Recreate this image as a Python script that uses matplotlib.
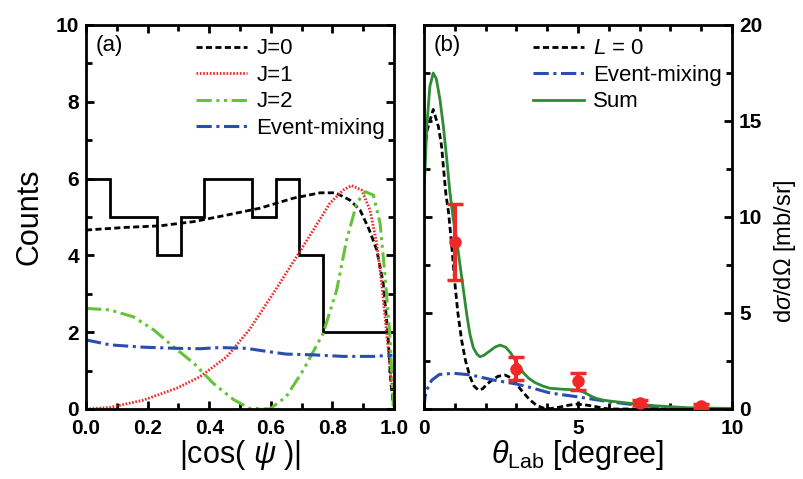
import numpy as np
import matplotlib
matplotlib.use("Agg")
import matplotlib.pyplot as plt
from matplotlib.ticker import MultipleLocator, FormatStrFormatter

plt.rcParams['font.family'] = ['Liberation Sans', 'DejaVu Sans']
plt.rcParams['mathtext.fontset'] = 'custom'
plt.rcParams['mathtext.rm'] = 'Liberation Sans'
plt.rcParams['mathtext.it'] = 'Liberation Sans:italic'

# ---------------- panel (a) data ----------------
hist_edges = list(np.linspace(0, 1, 14))
hist_counts = [6, 5, 5, 4, 5, 6, 6, 5, 6, 4, 2, 2, 2]

j0_x = [0, 0.13, 0.24, 0.35, 0.457, 0.565, 0.673, 0.76, 0.81, 0.857, 0.89, 0.92, 0.944, 0.965, 0.98, 0.99, 0.998]
j0_y = [4.66, 4.73, 4.77, 4.88, 5.05, 5.23, 5.49, 5.63, 5.63, 5.44, 5.18, 4.66, 4.14, 3.27, 1.97, 0.67, 0.1]

j1_x = [0, 0.078, 0.186, 0.294, 0.37, 0.457, 0.53, 0.608, 0.684, 0.738, 0.792, 0.835, 0.862, 0.895, 0.922, 0.944, 0.96, 0.976, 0.987, 0.995]
j1_y = [0, 0.04, 0.23, 0.54, 0.84, 1.36, 2.06, 3.01, 3.97, 4.66, 5.36, 5.70, 5.82, 5.70, 5.18, 4.31, 3.27, 1.97, 1.10, 0.5]

j2_x = [0, 0.078, 0.154, 0.22, 0.284, 0.35, 0.413, 0.478, 0.53, 0.597, 0.65, 0.706, 0.77, 0.814, 0.846, 0.879, 0.906, 0.933, 0.955, 0.971, 0.987, 0.998]
j2_y = [2.62, 2.58, 2.40, 2.06, 1.62, 1.19, 0.67, 0.25, 0.02, 0.0, 0.32, 1.02, 1.97, 3.10, 4.40, 5.36, 5.66, 5.57, 4.83, 3.45, 1.88, 0.06]

mixa_x = [0, 0.078, 0.186, 0.294, 0.37, 0.435, 0.52, 0.587, 0.65, 0.738, 0.835, 0.933, 0.995]
mixa_y = [1.80, 1.67, 1.61, 1.58, 1.57, 1.60, 1.58, 1.50, 1.43, 1.41, 1.37, 1.37, 1.40]

# ---------------- panel (b) data ----------------
sum_x = [0, 0.03, 0.09, 0.19, 0.3, 0.4, 0.52, 0.63, 0.74, 0.84, 0.95, 1.06, 1.17, 1.28, 1.39, 1.49,
         1.6, 1.72, 1.82, 1.95, 2.1, 2.3, 2.47, 2.65, 2.8, 3.0, 3.22, 3.4, 3.6, 3.85, 4.09, 4.5,
         4.96, 5.15, 5.3, 5.45, 5.6, 5.8, 6.0, 6.5, 7.1, 7.5, 8.0, 8.5, 9.0, 10.0]
sum_y = [11.8, 12.3, 14.7, 16.8, 17.5, 17.2, 16.1, 14.7, 13.0, 11.3, 9.9, 8.8, 7.5, 6.2, 4.9, 3.9,
         3.2, 2.85, 2.72, 2.8, 2.98, 3.22, 3.33, 3.22, 2.95, 2.45, 1.9, 1.6, 1.38, 1.2, 1.08, 1.03,
         0.99, 0.9, 0.78, 0.65, 0.55, 0.47, 0.42, 0.33, 0.23, 0.17, 0.12, 0.07, 0.05, 0.03]

l0_x = [0, 0.05, 0.1, 0.19, 0.3, 0.47, 0.57, 0.63, 0.71, 0.8, 0.9, 1.0, 1.1, 1.22, 1.35, 1.49, 1.62,
        1.76, 1.9, 2.05, 2.2, 2.4, 2.63, 2.85, 3.0, 3.2, 3.44, 3.65, 3.87, 4.1, 4.4, 4.7, 4.96, 5.2,
        5.5, 5.8, 6.0, 7.0, 10.0]
l0_y = [12.5, 13.8, 14.5, 15.0, 15.6, 14.7, 13.7, 12.6, 11.2, 10.2, 8.5, 6.6, 5.0, 3.6, 2.5, 1.7, 1.2,
        0.99, 1.05, 1.3, 1.5, 1.7, 1.77, 1.6, 1.3, 0.9, 0.47, 0.2, 0.05, 0.02, 0.1, 0.2, 0.25, 0.22,
        0.15, 0.05, 0.0, 0.0, 0.0]

mixb_x = [0, 0.03, 0.09, 0.25, 0.5, 0.95, 1.5, 2.25, 3.0, 3.5, 4.1, 4.96, 6.0, 7.1, 8.0, 9.0, 10.0]
mixb_y = [0, 0.6, 1.0, 1.5, 1.8, 1.86, 1.78, 1.51, 1.3, 1.1, 0.83, 0.64, 0.38, 0.17, 0.07, 0.02, 0.0]

pts_x = [1, 3, 5, 7, 9]
pts_y = [8.7, 2.1, 1.45, 0.33, 0.16]
pts_err = [1.98, 0.6, 0.45, 0.12, 0.1]

RED = '#f02828'
BLUE = '#2a4db0'
GREEN_A = '#66c236'
GREEN_B = '#2e8b36'

fig = plt.figure(figsize=(8.04, 4.79), dpi=100)
axa = fig.add_axes([86/804, 1-409/479, 308/804, 384/479])
axb = fig.add_axes([424/804, 1-409/479, 308/804, 384/479])

def style(ax):
    for s in ax.spines.values():
        s.set_linewidth(2)
    ax.tick_params(which='both', direction='in', width=2, top=True, right=True,
                   labelsize=15)
    ax.tick_params(axis='x', which='both', pad=7)
    ax.tick_params(axis='y', which='both', pad=5)
    ax.tick_params(which='major', length=6)
    ax.tick_params(which='minor', length=4)
    for lab in ax.get_xticklabels() + ax.get_yticklabels():
        lab.set_fontweight('bold')

# panel (a)
axa.stairs(hist_counts, hist_edges, baseline=None, color='black', lw=2)
axa.plot(j0_x, j0_y, color='black', ls=(0, (2.2, 1.2)), lw=2, label='J=0')
axa.plot(j1_x, j1_y, color=RED, ls=(0, (0.6, 0.6)), lw=2, label='J=1')
axa.plot(j2_x, j2_y, color=GREEN_A, ls=(0, (5, 1.5, 1, 1.5, 1, 1.5)), lw=2.2, label='J=2')
axa.plot(mixa_x, mixa_y, color=BLUE, ls=(0, (5, 1.5, 1, 1.5)), lw=2.2, label='Event-mixing')
axa.set_xlim(0, 1)
axa.set_ylim(0, 10)
axa.xaxis.set_major_locator(MultipleLocator(0.2))
axa.xaxis.set_minor_locator(MultipleLocator(0.1))
axa.yaxis.set_major_locator(MultipleLocator(2))
axa.yaxis.set_minor_locator(MultipleLocator(1))
axa.xaxis.set_major_formatter(FormatStrFormatter('%.1f'))
axa.set_ylabel('Counts', fontsize=22, labelpad=8)
axa.set_xlabel(r'|cos( $\psi$ )|', fontsize=22, labelpad=0)
style(axa)
axa.text(0.03, 0.975, '(a)', transform=axa.transAxes, fontsize=16, va='top', ha='left')
axa.legend(loc='upper left', bbox_to_anchor=(0.315, 1.0), frameon=False, fontsize=16,
           handlelength=2.3, handletextpad=0.4, labelspacing=0.25, borderaxespad=0.2)

# panel (b)
axb.plot(l0_x, l0_y, color='black', ls=(0, (2.2, 1.2)), lw=2, label=r'$L$ = 0')
axb.plot(mixb_x, mixb_y, color=BLUE, ls=(0, (5, 1.5, 1, 1.5)), lw=2.2, label='Event-mixing')
axb.plot(sum_x, sum_y, color=GREEN_B, ls='-', lw=2, label='Sum')
axb.errorbar(pts_x, pts_y, yerr=pts_err, fmt='o', color=RED, ms=8, elinewidth=3,
             capsize=5.5, capthick=2.5, zorder=5)
axb.set_xlim(0, 10)
axb.set_ylim(0, 20)
axb.xaxis.set_major_locator(MultipleLocator(5))
axb.xaxis.set_minor_locator(MultipleLocator(1))
axb.yaxis.set_major_locator(MultipleLocator(5))
axb.yaxis.set_minor_locator(MultipleLocator(2.5))
axb.yaxis.tick_right()
axb.yaxis.set_label_position('right')
style(axb)
axb.tick_params(which='both', left=True, labelleft=False, right=True, labelright=True)
axb.set_ylabel(r'd$\sigma$/d$\mathit{Ω}$ [mb/sr]', fontsize=17, rotation=90)
axb.yaxis.set_label_coords(1.13, 0.41)
axb.set_xlabel(r'$\theta_{\mathrm{Lab}}$ [degree]', fontsize=22, labelpad=0)
axb.text(0.03, 0.975, '(b)', transform=axb.transAxes, fontsize=16, va='top', ha='left')
axb.legend(loc='upper left', bbox_to_anchor=(0.31, 1.0), frameon=False, fontsize=16,
           handlelength=2.3, handletextpad=0.4, labelspacing=0.25, borderaxespad=0.2)

fig.savefig('out.png', dpi=100)
